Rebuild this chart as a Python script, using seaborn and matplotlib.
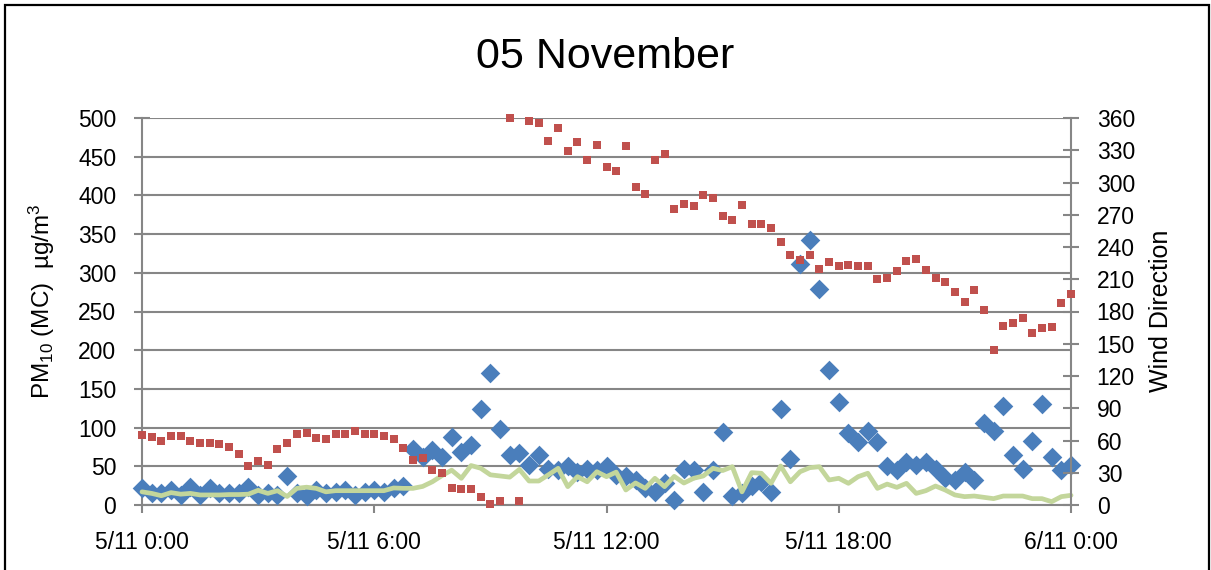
import numpy as np
import pandas as pd
import matplotlib
matplotlib.use("Agg")
import matplotlib.pyplot as plt
from matplotlib.patches import Rectangle
import seaborn as sns

# ---------------- data (15-minute readings, 5 Nov 00:00 -> 6 Nov 00:00) ----------------
step_hours = 0.25
pm10 = [22, 15, 15, 20, 13, 23, 13, 22, 15, 15, 15, 23, 13, 15, 13, 37, 15, 11, 19, 15,
        17, 19, 13, 17, 19, 17, 22, 24, 72, 62, 71, 62, 88, 69, 77, 124, 170, 98, 65, 67,
        52, 65, 47, 45, 50, 43, 47, 45, 50, 39, 37, 32, 22, 17, 28, 7, 47, 45, 17, 45,
        94, 11, 15, 25, 30, 17, 124, 59, 312, 343, 279, 175, 133, 93, 82, 95, 82, 50, 45, 56,
        52, 56, 47, 35, 32, 43, 32, 106, 95, 128, 65, 46, 83, 131, 62, 45, 52]
green = [17, 15, 12, 16, 14, 15, 13, 13, 13, 13.5, 13.5, 14, 19, 15, 18.5, 11, 21.5, 23, 21.5, 17,
         18.5, 18.5, 18.5, 18.5, 18.5, 18.5, 22, 21.5, 21.5, 24, 30, 38, 45, 34.5, 51, 47.5, 39, 37.5, 36, 46,
         31, 31, 39, 47.4, 23.7, 36.6, 30, 43, 36.6, 42.5, 19.4, 28.5, 21.5, 34.5, 23.7, 37, 28.4, 34.5, 37.5, 47.4,
         44.5, 49.5, 17, 41.8, 41, 28, 50.4, 30, 43, 48.2, 49.5, 32.3, 34.5, 28, 36.6, 41, 21.5, 27, 22.8, 28,
         15, 18.5, 24.5, 19.4, 13, 10.8, 11.6, 9.9, 8.2, 11.6, 11.6, 11.6, 8.2, 8.2, 4.3, 10.8, 12.5]
wind_dir = [65, 63, 60, 64.5, 64.5, 60, 57.5, 57.5, 56.5, 54, 47, 36.5, 40.5, 37, 52, 58, 66, 67, 62, 61,
            66, 66, 69, 66, 66, 64.5, 61, 53, 42, 44, 33, 30, 16, 14.5, 14.5, 7, 1, 4, 360, 4,
            357.5, 355.5, 339, 351, 329, 337.5, 320.5, 335, 314, 310.5, 333.5, 295.5, 289, 320.5, 326.5, 275, 280, 278, 288, 286,
            269, 265, 279.5, 261.5, 261.5, 258, 244.5, 233, 228, 233, 220, 226, 222.5, 223, 222.5, 222.5, 210, 211.5, 217.5, 227,
            229, 219, 211.5, 207.5, 198.5, 188.5, 200, 181.5, 144, 166.5, 169, 173.5, 160, 165, 165.5, 187.5, 196.5]
xtick_hours = [0, 6, 12, 18, 24]
xtick_labels = ["5/11 0:00", "5/11 6:00", "5/11 12:00", "5/11 18:00", "6/11 0:00"]
title = "05 November"
left_label = r"PM$_{10}$ (MC)  µg/m$^{3}$"
right_label = "Wind Direction"

hours = np.arange(len(pm10)) * step_hours
df = pd.DataFrame({"hours": hours, "pm10": pm10, "green": green, "wind": wind_dir})

# ---------------- style ----------------
sns.set_style("white")
plt.rcParams["font.family"] = ["Liberation Sans", "DejaVu Sans"]
plt.rcParams["mathtext.default"] = "regular"
plt.rcParams["mathtext.fontset"] = "custom"
plt.rcParams["mathtext.rm"] = "Liberation Sans"
plt.rcParams["text.color"] = "black"
plt.rcParams["axes.labelcolor"] = "black"
plt.rcParams["xtick.color"] = "black"
plt.rcParams["ytick.color"] = "black"

grid_c = "#868686"
blue = "#4a7ebb"
red = "#c0504d"
lgreen = "#c3d69b"

fig = plt.figure(figsize=(12.11, 5.70), dpi=100)
fig.patch.set_facecolor("white")
ax = fig.add_axes([142 / 1211, 1 - 505 / 570, (1071 - 142) / 1211, (505 - 118) / 570])

sns.scatterplot(data=df, x="hours", y="pm10", ax=ax, marker="D", s=100, color=blue,
                linewidth=0, clip_on=False, zorder=3)
sns.lineplot(data=df, x="hours", y="green", ax=ax, color=lgreen, lw=3.4,
             clip_on=False, zorder=4)

ax.set_xlim(0, 24)
ax.set_ylim(0, 500)
ax.set_yticks(np.arange(0, 501, 50))
ax.set_xticks(xtick_hours)
ax.set_xticklabels(xtick_labels)
ax.set_xlabel("")
ax.set_ylabel("")
ax.yaxis.grid(True, color=grid_c, lw=1.5)
ax.xaxis.grid(False)
ax.set_axisbelow(True)
for s in ["top", "right"]:
    ax.spines[s].set_visible(False)
for s in ["left", "bottom"]:
    ax.spines[s].set_color(grid_c)
    ax.spines[s].set_linewidth(1.5)
ax.tick_params(axis="y", direction="inout", length=11, width=1.5, color=grid_c,
               labelcolor="black", labelsize=16.5, pad=13, left=True)
ax.tick_params(axis="x", direction="out", length=6, width=1.5, color=grid_c,
               labelcolor="black", labelsize=16.5, pad=13, bottom=True)

ax2 = ax.twinx()
sns.scatterplot(data=df, x="hours", y="wind", ax=ax2, marker="s", s=26, color=red,
                linewidth=0, clip_on=False, zorder=5)
ax2.set_ylim(0, 360)
ax2.set_yticks(np.arange(0, 361, 30))
ax2.set_ylabel("")
ax2.grid(False)
for s in ["top", "left", "bottom"]:
    ax2.spines[s].set_visible(False)
ax2.spines["right"].set_color(grid_c)
ax2.spines["right"].set_linewidth(1.5)
ax2.tick_params(axis="y", direction="inout", length=11, width=1.5, color=grid_c,
                labelcolor="black", labelsize=16.5, pad=13, right=True)

fig.text(605 / 1211, 1 - 57 / 570, title, ha="center", va="center", fontsize=31, color="black")
fig.text(42 / 1211, 1 - 301 / 570, left_label, rotation=90, ha="center", va="center",
         fontsize=17.5, color="black")
fig.text(1161 / 1211, 1 - 311 / 570, right_label, rotation=90, ha="center", va="center",
         fontsize=18, color="black")

fig.add_artist(Rectangle((5 / 1211, -0.05), (1209 - 5) / 1211, 1.05 - 5 / 570,
                         transform=fig.transFigure, fill=False, edgecolor="black", lw=1.6))

fig.savefig("out.png", dpi=100)
